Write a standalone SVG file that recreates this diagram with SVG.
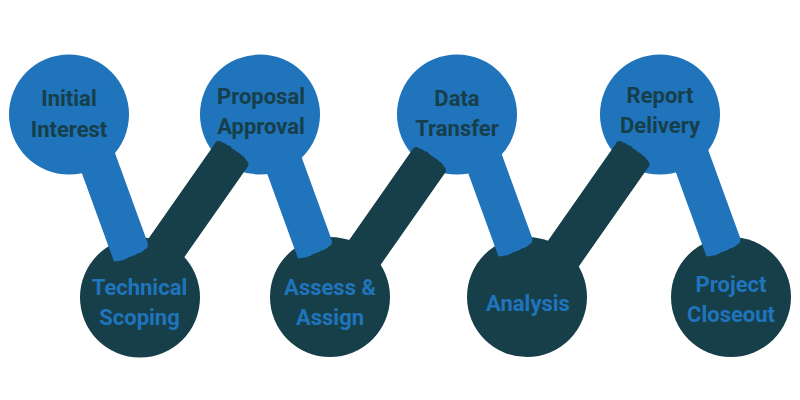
<svg xmlns="http://www.w3.org/2000/svg" width="800" height="400" viewBox="0 0 800 400">
  <style>
    .blue { fill: #1F74BB; }
    .dark { fill: #173F4A; }
    .lbl { font-family: Roboto, "Liberation Sans", sans-serif; font-weight: 700; font-size: 22px; text-anchor: middle; }
    .lbl-dark { fill: #173F4A; }
    .lbl-blue { fill: #1F74BB; }
  </style>
  <defs>
    <path id="blueStem" d="M -19,-113 L 19,-113 L 19,-4 C 18,-1 16,1 14,0 C 12,2 10,1 8,2 C 6,0 4,3 1,2 C -2,3 -4,1 -6,3 C -9,2 -11,4 -13,2 C -15,3 -17,1 -19,1 Z"/>
    <path id="darkStem" d="M -20,133 L -20,4 C -21,1 -18,-2 -15,-1 C -12,-3 -9,-1 -6,-3 C -3,-1 0,-3 3,-2 C 6,-3 9,-1 12,-2 C 15,0 19,-1 20,3 L 20,133 Z"/>
  </defs>
  <rect width="800" height="400" fill="#FFFFFF"/>

  <g id="initial-interest">
    <circle class="blue" cx="69" cy="114.5" r="60"/>
    <text class="lbl lbl-dark" x="69" y="106">Initial</text>
    <text class="lbl lbl-dark" x="69" y="137">Interest</text>
  </g>
  <g id="proposal-approval">
    <circle class="blue" cx="260" cy="114.5" r="60"/>
    <text class="lbl lbl-dark" x="261" y="104">Proposal</text>
    <text class="lbl lbl-dark" x="261" y="134">Approval</text>
  </g>
  <g id="data-transfer">
    <circle class="blue" cx="457" cy="114.5" r="60"/>
    <text class="lbl lbl-dark" x="457" y="106">Data</text>
    <text class="lbl lbl-dark" x="457" y="136">Transfer</text>
  </g>
  <g id="report-delivery">
    <circle class="blue" cx="660" cy="114.5" r="60"/>
    <text class="lbl lbl-dark" x="660" y="103">Report</text>
    <text class="lbl lbl-dark" x="660" y="133">Delivery</text>
  </g>

  <g id="technical-scoping">
    <circle class="dark" cx="140" cy="297.5" r="60"/>
    <text class="lbl lbl-blue" x="139.5" y="295">Technical</text>
    <text class="lbl lbl-blue" x="139.5" y="325">Scoping</text>
  </g>
  <g id="assess-assign">
    <circle class="dark" cx="330" cy="297" r="60"/>
    <text class="lbl lbl-blue" x="330" y="295">Assess &amp;</text>
    <text class="lbl lbl-blue" x="330" y="325">Assign</text>
  </g>
  <g id="analysis">
    <circle class="dark" cx="527" cy="297" r="60"/>
    <text class="lbl lbl-blue" x="528" y="311">Analysis</text>
  </g>
  <g id="project-closeout">
    <circle class="dark" cx="731" cy="297" r="60"/>
    <text class="lbl lbl-blue" x="731" y="292">Project</text>
    <text class="lbl lbl-blue" x="731" y="322">Closeout</text>
  </g>

  <g id="connectors">
    <use href="#darkStem" class="dark" transform="translate(233.5,152) rotate(35)"/>
    <use href="#darkStem" class="dark" transform="translate(431,158) rotate(35)"/>
    <use href="#darkStem" class="dark" transform="translate(634.5,152) rotate(35)"/>
    <use href="#blueStem" class="blue" transform="translate(131.5,254) rotate(-20)"/>
    <use href="#blueStem" class="blue" transform="translate(315.5,251) rotate(-20)"/>
    <use href="#blueStem" class="blue" transform="translate(516,249) rotate(-20)"/>
    <use href="#blueStem" class="blue" transform="translate(724,249) rotate(-20)"/>
  </g>
</svg>
